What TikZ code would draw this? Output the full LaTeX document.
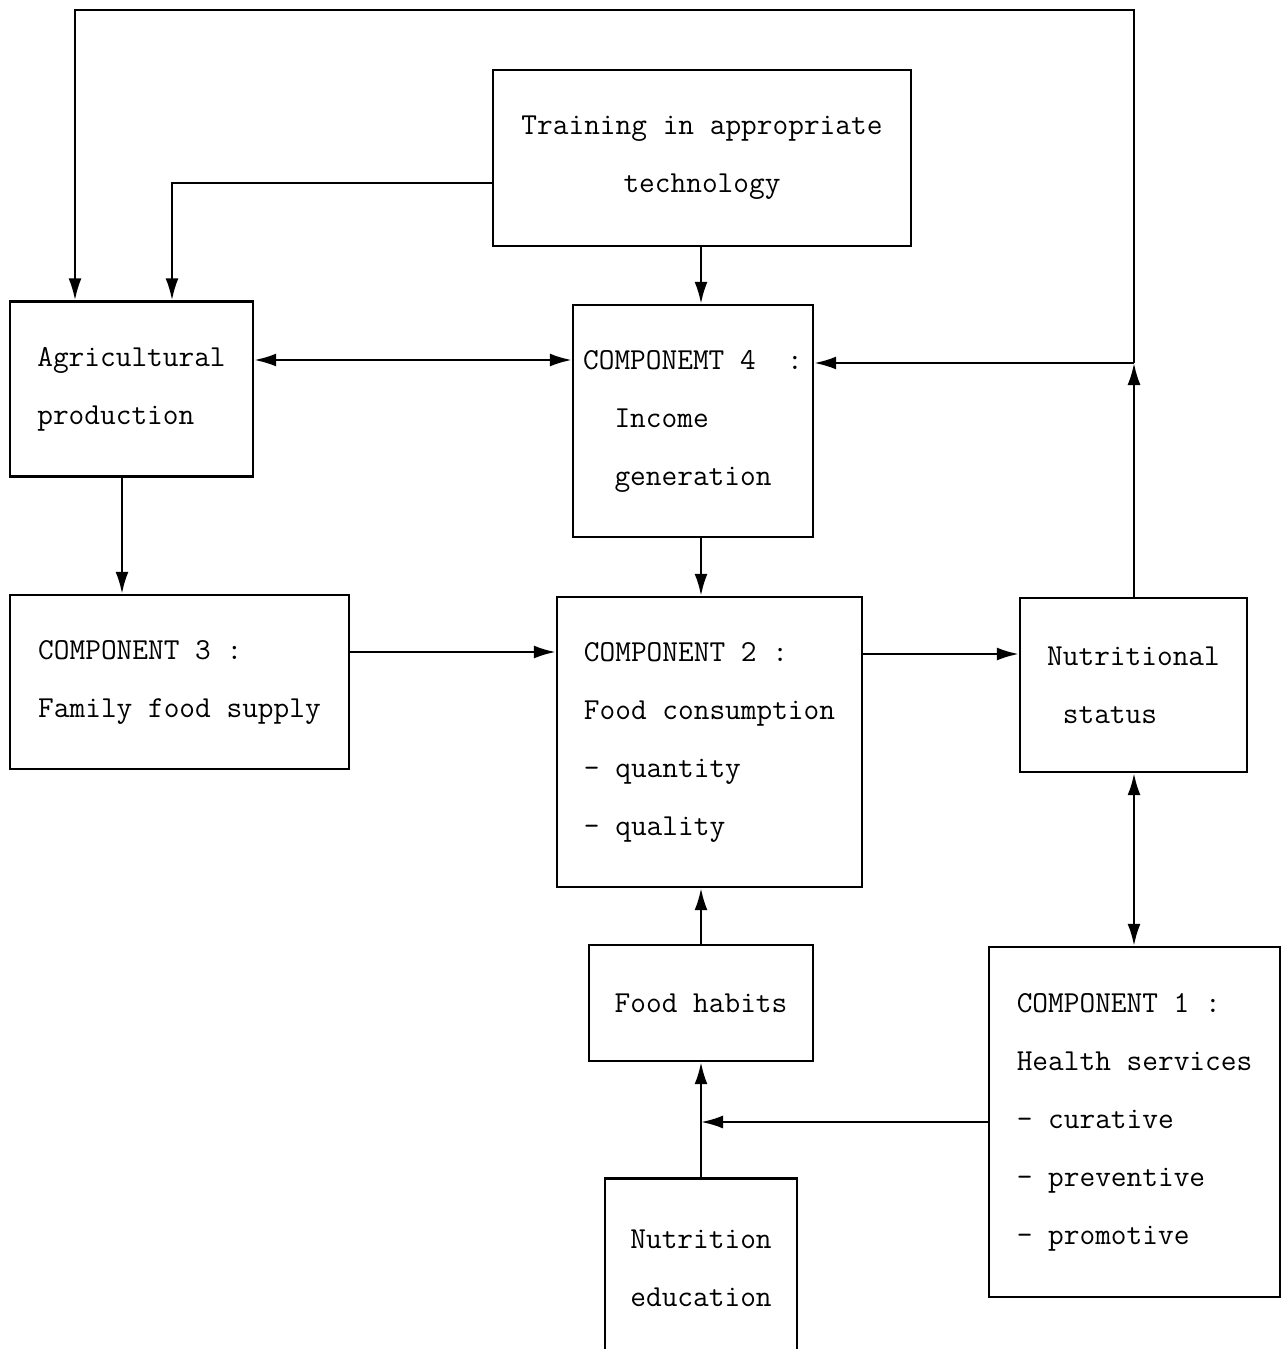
\documentclass[tikz,border=0pt]{standalone}
\usepackage{fontspec}
\usetikzlibrary{arrows.meta}
\begin{document}
\begin{tikzpicture}[x=0.5pt,y=-0.5pt,
  box/.style={draw, line width=1.2pt, inner sep=0pt, align=left,
    font=\ttfamily\fontsize{15.24pt}{29pt}\selectfont},
  conn/.style={line width=1.2pt, -{Latex[length=11pt,width=6.5pt]}},
  dconn/.style={line width=1.2pt, {Latex[length=11pt,width=6.5pt]}-{Latex[length=11pt,width=6.5pt]}}]
\useasboundingbox (0,0) rectangle (1285,1349);
\fill[white] (0,0) rectangle (1285,1349);
\clip (0,0) rectangle (1285,1349);

% boxes
\node[box, align=center, minimum width=209pt, minimum height=88pt] (train) at (702,158)
  {Training in appropriate\\technology};
\node[box, minimum width=121.5pt, minimum height=87.5pt] (agri) at (131.5,389)
  {Agricultural\\production};
\node[box, minimum width=120pt, minimum height=116pt] (comp4) at (693,421)
  {COMPONEMT 4\ \ :\\\ \ Income\\\ \ generation};
\node[box, minimum width=169.5pt, minimum height=87pt] (comp3) at (179.5,682)
  {COMPONENT 3 :\\Family food supply};
\node[box, minimum width=152.5pt, minimum height=145pt] (comp2) at (709.5,742)
  {COMPONENT 2 :\\Food consumption\\- quantity\\- quality};
\node[box, minimum width=113.5pt, minimum height=87pt] (nutr) at (1133.5,685)
  {Nutritional\\\ status};
\node[box, minimum width=112pt, minimum height=58pt] (habits) at (701,1003)
  {Food habits};
\node[box, minimum width=145.5pt, minimum height=175pt] (comp1) at (1134.5,1122)
  {COMPONENT 1 :\\Health services\\- curative\\- preventive\\- promotive};
\node[box, align=center, minimum width=96pt, minimum height=89.5pt] (edu) at (701,1268)
  {Nutrition\\education};

% helper coordinates
\coordinate (vx) at (701,0);
\coordinate (vr) at (1134,0);
\coordinate (v1) at (122,0);
\coordinate (j1) at (1134,363);
\coordinate (tr) at (1134,10);
\coordinate (tl) at (75,10);
\coordinate (t1) at (172,183);
\coordinate (h1) at (0,360);
\coordinate (h2) at (0,652);
\coordinate (h3) at (0,654);

% connectors
\draw[conn] (nutr.north -| vr) -- (j1);
\draw[conn] (j1) -- (comp4.east |- j1);
\draw[conn] (j1) -- (tr) -- (tl) -- (tl |- agri.north);
\draw[conn] (train.west |- t1) -- (t1) -- (t1 |- agri.north);
\draw[conn] (train.south -| vx) -- (comp4.north -| vx);
\draw[dconn] (agri.east |- h1) -- (comp4.west |- h1);
\draw[conn] (agri.south -| v1) -- (comp3.north -| v1);
\draw[conn] (comp4.south -| vx) -- (comp2.north -| vx);
\draw[conn] (comp3.east |- h2) -- (comp2.west |- h2);
\draw[conn] (comp2.east |- h3) -- (nutr.west |- h3);
\draw[dconn] (nutr.south -| vr) -- (comp1.north -| vr);
\draw[conn] (habits.north -| vx) -- (comp2.south -| vx);
\draw[conn] (edu.north -| vx) -- (habits.south -| vx);
\draw[conn] (comp1.west) -- (comp1.west -| vx);
\end{tikzpicture}
\end{document}
